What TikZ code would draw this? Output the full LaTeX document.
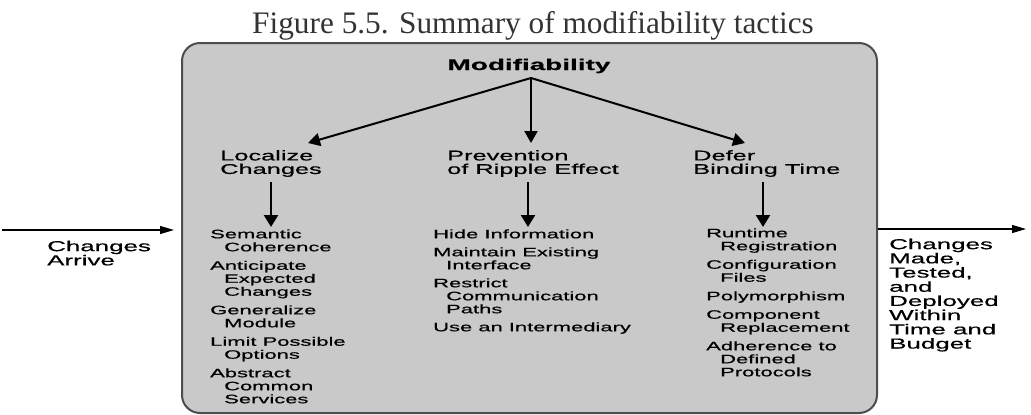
\documentclass[tikz,border=0pt]{standalone}
\usepackage{fontspec}
\setmainfont{Liberation Serif}
\newfontfamily\wf[FakeStretch=1.8,FakeBold=0.6]{Liberation Sans}
\usetikzlibrary{arrows.meta}
\definecolor{boxfill}{HTML}{C9C9C9}
\definecolor{boxline}{HTML}{4D4D4D}
\definecolor{titlecol}{HTML}{333333}
\begin{document}
\begin{tikzpicture}[x=1pt,y=-1pt,
  titletext/.style={anchor=base, inner sep=0pt, text=titlecol, font=\fontsize{31.3}{32}\selectfont},
  rootlabel/.style={anchor=base, inner sep=0pt, font=\wf\bfseries\fontsize{15.5}{16}\selectfont},
  headlabel/.style={anchor=north west, inner sep=0pt, align=left, font=\wf\fontsize{14.1}{13.5}\selectfont},
  listlabel/.style={anchor=north west, inner sep=0pt, align=left, font=\wf\fontsize{12.2}{13}\selectfont},
  sidelabel/.style={anchor=north west, inner sep=0pt, align=left, font=\wf\fontsize{14.4}{14.2}\selectfont},
  bigarrow/.style={-{Triangle[length=12pt,width=13pt]}, line width=2pt},
  downarrow/.style={-{Triangle[length=12pt,width=14pt]}, line width=2.5pt},
  flowarrow/.style={-{Triangle[length=14pt,width=8pt]}, line width=1.2pt},
]
\useasboundingbox (0,0) rectangle (1031,415);

% title
\node[titletext] (title) at (533,33) {Figure 5.5. Summary of modifiability tactics};

% container
\draw[line width=2pt, draw=boxline, fill=boxfill, rounded corners=18pt] (182,43) rectangle (877,413);

% root
\node[rootlabel] (mod) at (529,70) {Modifiability};
\coordinate (apex) at (531,78);

% headings
\node[headlabel] (loc) at (220,150) {Localize\\Changes};
\node[headlabel] (prev) at (447,150) {Prevention\\of Ripple Effect};
\node[headlabel] (defer) at (693,150) {Defer\\Binding Time};

\coordinate (t1) at (308,143);
\coordinate (t2) at (531,143);
\coordinate (t3) at (745,143);
\draw[bigarrow] (apex) -- (t1);
\draw[bigarrow] (apex) -- (t2);
\draw[bigarrow] (apex) -- (t3);

% lists
\node[listlabel] (l1) at (210,229.2) {Semantic\\\hspace*{14pt}Coherence\\[5.5pt]
Anticipate\\\hspace*{14pt}Expected\\\hspace*{14pt}Changes\\[5.5pt]
Generalize\\\hspace*{14pt}Module\\[5.5pt]
Limit Possible\\\hspace*{14pt}Options\\[5.5pt]
Abstract\\\hspace*{14pt}Common\\\hspace*{14pt}Services};

\node[listlabel] (l2) at (433,229.2) {Hide Information\\[5pt]
Maintain Existing\\\hspace*{13pt}Interface\\[5pt]
Restrict\\\hspace*{13pt}Communication\\\hspace*{13pt}Paths\\[5pt]
Use an Intermediary};

\node[listlabel] (l3) at (706,228.2) {Runtime\\\hspace*{14pt}Registration\\[5.5pt]
Configuration\\\hspace*{14pt}Files\\[5.5pt]
Polymorphism\\[5.5pt]
Component\\\hspace*{14pt}Replacement\\[5.5pt]
Adherence to\\\hspace*{14pt}Defined\\\hspace*{14pt}Protocols};

\coordinate (d1s) at (271,182);
\coordinate (d1e) at (271,227);
\coordinate (d2s) at (528,182);
\coordinate (d2e) at (528,227);
\coordinate (d3s) at (763,182);
\coordinate (d3e) at (763,227);
\draw[downarrow] (d1s) -- (d1e);
\draw[downarrow] (d2s) -- (d2e);
\draw[downarrow] (d3s) -- (d3e);

% input and output
\node[sidelabel] (arrive) at (47,240.5) {Changes\\Arrive};
\coordinate (instart) at (2,230);
\coordinate (inend) at (174,230);
\draw[flowarrow] (instart) -- (inend);

\node[sidelabel] (made) at (889,238.5) {Changes\\Made,\\Tested,\\and\\Deployed\\Within\\Time and\\Budget};
\coordinate (outstart) at (878,229);
\coordinate (outend) at (1026,229);
\draw[flowarrow] (outstart) -- (outend);
\end{tikzpicture}
\end{document}
